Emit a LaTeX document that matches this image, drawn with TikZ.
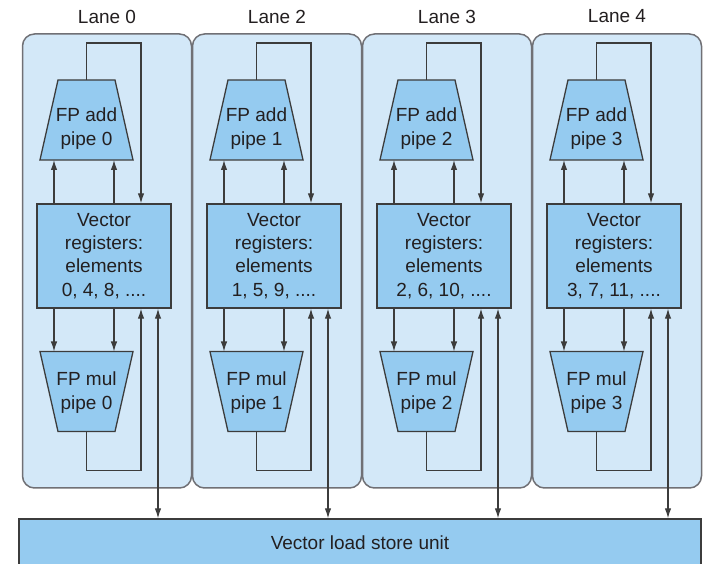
\documentclass[tikz,border=0pt]{standalone}
\usepackage{fontspec}
\setmainfont{Liberation Sans}
\usetikzlibrary{shapes.geometric,arrows.meta}
\definecolor{lanebg}{HTML}{D3E8F8}
\definecolor{unitbg}{HTML}{95CBF0}
\definecolor{laneline}{HTML}{707075}
\definecolor{unitline}{HTML}{3C3C3C}
\definecolor{ink}{HTML}{231F20}

\begin{document}
\begin{tikzpicture}[x=10pt, y=10pt,
    every node/.style={font=\fontsize{19}{23.3}\selectfont, text=ink, align=center},
    lane/.style={draw=laneline, line width=1.5pt, fill=lanebg, rounded corners=12pt,
      minimum width=169pt, minimum height=454pt},
    addpipe/.style={trapezium, trapezium left angle=77.3, trapezium right angle=77.3,
      inner xsep=28.5pt, inner ysep=40pt, outer sep=0pt,
      draw=unitline, fill=unitbg, line width=1.3pt},
    mulpipe/.style={addpipe, shape border rotate=180},
    pipetext/.style={font=\fontsize{19}{24}\selectfont, inner sep=0pt},
    regbox/.style={rectangle, draw=unitline, fill=unitbg, line width=1.3pt,
      minimum width=134pt, minimum height=104pt, inner sep=0pt},
    arr/.style={-{Latex[length=10pt, width=6.5pt]}, line width=1.2pt, draw=unitline},
    biarr/.style={{Latex[length=10pt, width=6.5pt]}-{Latex[length=10pt, width=6.5pt]},
      line width=1.2pt, draw=unitline}]
    \useasboundingbox (0, 0) rectangle (71, 56.4);
    % lanes
    \node [lane] (panel0) at (10.7, 30.3) {};
    \node [lane] (panel2) at (27.7, 30.3) {};
    \node [lane] (panel3) at (44.7, 30.3) {};
    \node [lane] (panel4) at (61.7, 30.3) {};
    \node (title0) at (10.7, 54.75) {Lane 0};
    \node (title2) at (27.7, 54.75) {Lane 2};
    \node (title3) at (44.7, 54.75) {Lane 3};
    \node (title4) at (61.7, 54.75) {Lane 4};
    \node [regbox, minimum width=682pt, minimum height=47pt] (lsu) at (36.0, 2.15) {Vector load store unit};
    % lane 0
    \node [addpipe] (add0) at (8.65, 44.4) {};
    \node [pipetext] (addtext0) at (8.65, 43.55) {FP add\\pipe 0};
    \node [regbox] (reg0) at (10.4, 30.8) {Vector\\registers:\\elements\\0, 4, 8, ....};
    \node [mulpipe] (mul0) at (8.65, 17.25) {};
    \node [pipetext] (multext0) at (8.65, 17.1) {FP mul\\pipe 0};
    \draw [arr] (reg0.north -| 5.4, 0) -- (add0.south -| 5.4, 0);
    \draw [arr] (reg0.north -| 11.4, 0) -- (add0.south -| 11.4, 0);
    \draw [arr] (reg0.south -| 5.4, 0) -- (mul0.north -| 5.4, 0);
    \draw [arr] (reg0.south -| 11.4, 0) -- (mul0.north -| 11.4, 0);
    \draw [arr] (add0.north) -- ++(0, 3.7) -| (reg0.north -| 14.1, 0);
    \draw [arr] (mul0.south) -- ++(0, -3.9) -| (reg0.south -| 14.1, 0);
    \draw [biarr] (reg0.south -| 15.8, 0) -- (lsu.north -| 15.8, 0);
    % lane 2
    \node [addpipe] (add2) at (25.65, 44.4) {};
    \node [pipetext] (addtext2) at (25.65, 43.55) {FP add\\pipe 1};
    \node [regbox] (reg2) at (27.4, 30.8) {Vector\\registers:\\elements\\1, 5, 9, ....};
    \node [mulpipe] (mul2) at (25.65, 17.25) {};
    \node [pipetext] (multext2) at (25.65, 17.1) {FP mul\\pipe 1};
    \draw [arr] (reg2.north -| 22.4, 0) -- (add2.south -| 22.4, 0);
    \draw [arr] (reg2.north -| 28.4, 0) -- (add2.south -| 28.4, 0);
    \draw [arr] (reg2.south -| 22.4, 0) -- (mul2.north -| 22.4, 0);
    \draw [arr] (reg2.south -| 28.4, 0) -- (mul2.north -| 28.4, 0);
    \draw [arr] (add2.north) -- ++(0, 3.7) -| (reg2.north -| 31.1, 0);
    \draw [arr] (mul2.south) -- ++(0, -3.9) -| (reg2.south -| 31.1, 0);
    \draw [biarr] (reg2.south -| 32.8, 0) -- (lsu.north -| 32.8, 0);
    % lane 3
    \node [addpipe] (add3) at (42.65, 44.4) {};
    \node [pipetext] (addtext3) at (42.65, 43.55) {FP add\\pipe 2};
    \node [regbox] (reg3) at (44.4, 30.8) {Vector\\registers:\\elements\\2, 6, 10, ....};
    \node [mulpipe] (mul3) at (42.65, 17.25) {};
    \node [pipetext] (multext3) at (42.65, 17.1) {FP mul\\pipe 2};
    \draw [arr] (reg3.north -| 39.4, 0) -- (add3.south -| 39.4, 0);
    \draw [arr] (reg3.north -| 45.4, 0) -- (add3.south -| 45.4, 0);
    \draw [arr] (reg3.south -| 39.4, 0) -- (mul3.north -| 39.4, 0);
    \draw [arr] (reg3.south -| 45.4, 0) -- (mul3.north -| 45.4, 0);
    \draw [arr] (add3.north) -- ++(0, 3.7) -| (reg3.north -| 48.1, 0);
    \draw [arr] (mul3.south) -- ++(0, -3.9) -| (reg3.south -| 48.1, 0);
    \draw [biarr] (reg3.south -| 49.8, 0) -- (lsu.north -| 49.8, 0);
    % lane 4
    \node [addpipe] (add4) at (59.65, 44.4) {};
    \node [pipetext] (addtext4) at (59.65, 43.55) {FP add\\pipe 3};
    \node [regbox] (reg4) at (61.4, 30.8) {Vector\\registers:\\elements\\3, 7, 11, ....};
    \node [mulpipe] (mul4) at (59.65, 17.25) {};
    \node [pipetext] (multext4) at (59.65, 17.1) {FP mul\\pipe 3};
    \draw [arr] (reg4.north -| 56.4, 0) -- (add4.south -| 56.4, 0);
    \draw [arr] (reg4.north -| 62.4, 0) -- (add4.south -| 62.4, 0);
    \draw [arr] (reg4.south -| 56.4, 0) -- (mul4.north -| 56.4, 0);
    \draw [arr] (reg4.south -| 62.4, 0) -- (mul4.north -| 62.4, 0);
    \draw [arr] (add4.north) -- ++(0, 3.7) -| (reg4.north -| 65.1, 0);
    \draw [arr] (mul4.south) -- ++(0, -3.9) -| (reg4.south -| 65.1, 0);
    \draw [biarr] (reg4.south -| 66.8, 0) -- (lsu.north -| 66.8, 0);
  \end{tikzpicture}
\end{document}
